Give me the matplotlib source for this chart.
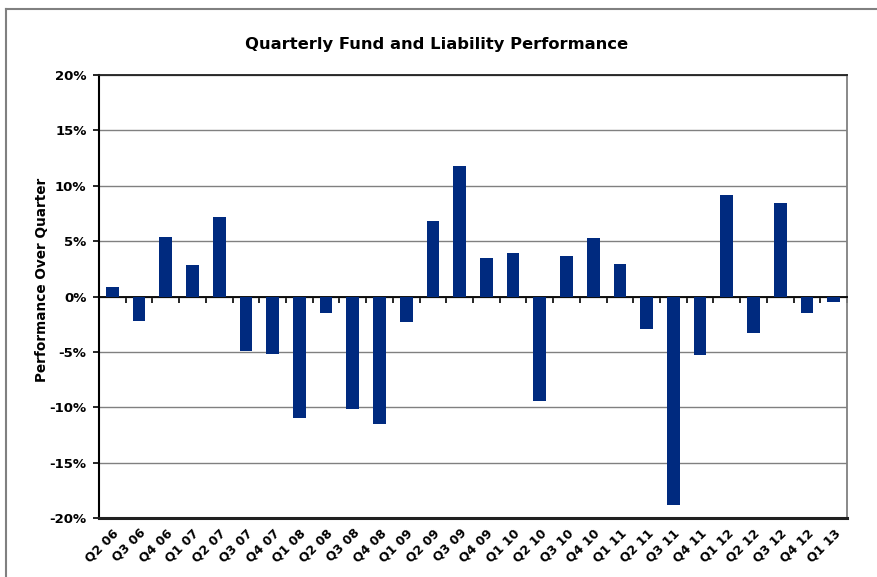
import numpy as np
import matplotlib
matplotlib.use('Agg')
from matplotlib import pyplot as plt
from matplotlib.lines import Line2D
from matplotlib.ticker import FixedLocator, FuncFormatter

quarters = ['Q2 06', 'Q3 06', 'Q4 06', 'Q1 07', 'Q2 07', 'Q3 07', 'Q4 07',
            'Q1 08', 'Q2 08', 'Q3 08', 'Q4 08', 'Q1 09', 'Q2 09', 'Q3 09',
            'Q4 09', 'Q1 10', 'Q2 10', 'Q3 10', 'Q4 10', 'Q1 11', 'Q2 11',
            'Q3 11', 'Q4 11', 'Q1 12', 'Q2 12', 'Q3 12', 'Q4 12', 'Q1 13']
performance = [0.9, -2.2, 5.4, 2.8, 7.2, -4.9, -5.2,
               -11.0, -1.5, -10.2, -11.5, -2.3, 6.8, 11.8,
               3.5, 3.9, -9.4, 3.7, 5.3, 2.9, -2.9,
               -18.8, -5.3, 9.2, -3.3, 8.4, -1.5, -0.5]
y_ticks = [-20, -15, -10, -5, 0, 5, 10, 15, 20]

plt.rcParams['font.family'] = ['DejaVu Sans']
plt.rcParams['font.weight'] = 'bold'

fig = plt.figure(figsize=(8.77, 5.77), dpi=100)
ax = fig.add_axes([99 / 877, 1 - 518 / 577, 748 / 877, 443 / 577])

x = np.arange(len(quarters))
ax.bar(x, performance, width=0.48, color='#002a7f', zorder=3)

ax.set_xlim(-0.5, len(quarters) - 0.5)
ax.set_ylim(-20, 20)
ax.set_yticks(y_ticks)
ax.yaxis.set_major_formatter(FuncFormatter(lambda v, p: f'{v:.0f}%'))
ax.tick_params(axis='y', direction='out', length=4, width=1.2, labelsize=9.5,
               color='black', pad=5)
ax.yaxis.grid(True, color='#808080', linewidth=1, zorder=0)

# category axis crosses at zero, tick marks between categories
ax.spines['bottom'].set_position(('data', 0))
ax.spines['bottom'].set_linewidth(1.3)
ax.xaxis.set_major_locator(FixedLocator(np.arange(len(quarters) + 1) - 0.5))
ax.tick_params(axis='x', direction='out', length=4, width=1.2, labelbottom=False)
ax.spines['left'].set_linewidth(1.5)
ax.spines['top'].set_linewidth(1.3)
ax.spines['top'].set_color('#202020')
ax.spines['right'].set_color('#808080')
ax.spines['right'].set_linewidth(1.3)
ax.axhline(-20, color='#202020', linewidth=2.2, zorder=4, clip_on=False)

sec = ax.secondary_xaxis(0.0)
sec.set_xticks(x)
sec.set_xticklabels(quarters, rotation=45, ha='right', rotation_mode='anchor',
                    fontsize=9, fontweight='bold')
sec.tick_params(length=0, pad=6)
sec.spines['bottom'].set_visible(False)

ax.set_ylabel('Performance Over Quarter', fontsize=9.8, fontweight='bold')
ax.yaxis.set_label_coords((49 - 99) / 748, (518 - 280) / 443)

fig.text(437 / 877, 1 - 45 / 577, 'Quarterly Fund and Liability Performance',
         ha='center', va='center', fontsize=11.8, fontweight='bold')

# outer chart frame (extends past the right and bottom edges)
fig.add_artist(Line2D([6 / 877, 6 / 877], [1 - 9 / 577, 0], color='#808080',
                      linewidth=1.5, transform=fig.transFigure))
fig.add_artist(Line2D([6 / 877, 1], [1 - 9 / 577, 1 - 9 / 577], color='#808080',
                      linewidth=1.5, transform=fig.transFigure))

plt.savefig('out.png', dpi=100)
